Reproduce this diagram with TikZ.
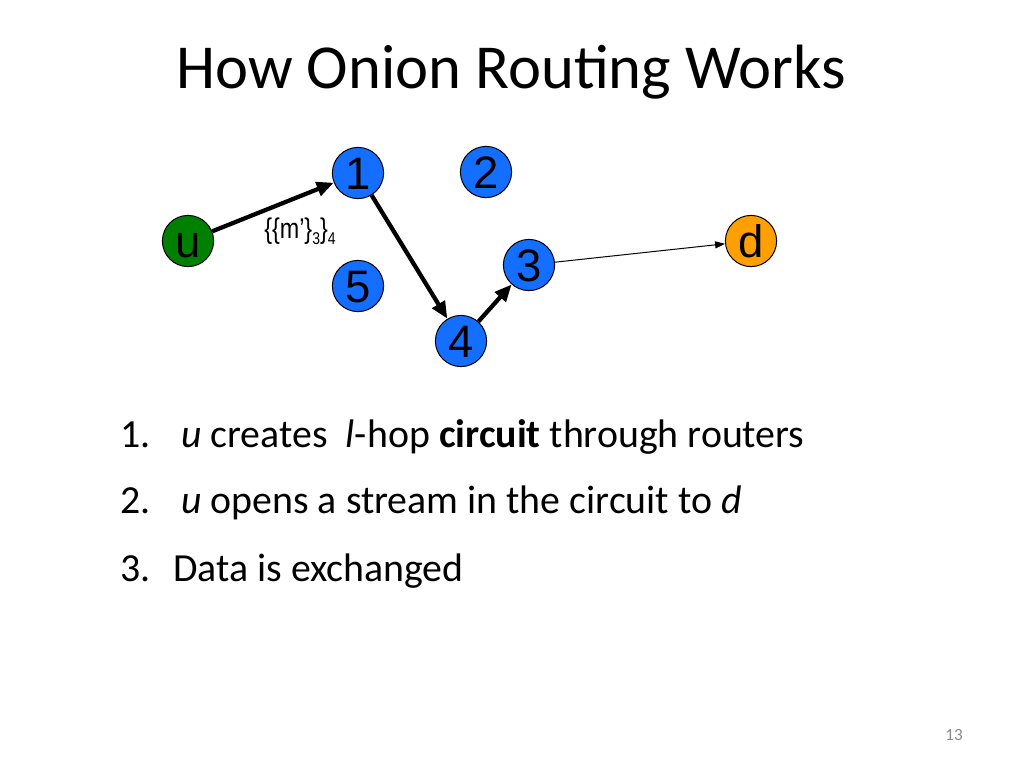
\documentclass[tikz,border=0pt]{standalone}
\usepackage{fontspec}
\setmainfont{Carlito}
\newfontfamily\arialf{Liberation Sans}
\newfontfamily\narrowf[FakeStretch=0.82]{Liberation Sans}
\usetikzlibrary{arrows.meta}
\definecolor{nodeblue}{RGB}{20,110,255}
\definecolor{nodegreen}{RGB}{0,128,0}
\definecolor{nodeorange}{RGB}{255,160,0}
\definecolor{pgnum}{RGB}{137,137,137}
\tikzset{
  router/.style={circle, draw=black, line width=0.7pt, fill=nodeblue, minimum size=36pt, inner sep=0pt,
    font=\arialf\fontsize{32}{34}\selectfont, text height=22.9pt, text depth=0pt},
  srcnode/.style={router, fill=nodegreen},
  dstnode/.style={router, fill=nodeorange},
  thickarrow/.style={line width=3pt, -{Triangle[length=12pt,width=10pt]}},
  thinarrow/.style={line width=0.7pt, -{Triangle[length=7pt,width=5pt]}},
  bodytext/.style={anchor=base west, inner sep=0pt, font=\fontsize{28}{33}\selectfont}
}
\begin{document}
\begin{tikzpicture}[x=0.703pt,y=-0.703pt]
\useasboundingbox (0,0) rectangle (1024,768);
\fill[white] (0,0) rectangle (1024,768);
% title
\node[anchor=base, inner sep=0pt, font=\fontsize{44}{53}\selectfont] (title) at (511,88) {How Onion Routing Works};
% nodes
\node[router] (n1) at (358,173) {1};
\node[router] (n2) at (486,172) {2};
\node[srcnode] (u) at (188,241) {u};
\node[dstnode] (d) at (751,241) {d};
\node[router] (n3) at (529,265) {3};
\node[router] (n5) at (358,286) {5};
\node[router] (n4) at (461,341) {4};
% connectors
\draw[thickarrow] (u) -- (n1);
\draw[thickarrow] (n1) -- (n4);
\draw[thickarrow] (n4) -- (n3);
\draw[thinarrow] (n3) -- (d);
% label
\node[anchor=base west, inner sep=0pt, font=\narrowf\fontsize{20}{22}\selectfont] (lbl) at (264,238)
  {\{\{m’\}\raisebox{-0.45ex}{\fontsize{12}{12}\selectfont 3}\}\raisebox{-0.45ex}{\fontsize{12}{12}\selectfont 4}};
% body
\node[bodytext] (l1n) at (120,447) {1.};
\node[bodytext] (l1) at (181,447) {\textit{u} creates\ \ \textit{l}-hop \textbf{circuit} through routers};
\node[bodytext] (l2n) at (120,513) {2.};
\node[bodytext] (l2) at (181,513) {\textit{u} opens a stream in the circuit to \textit{d}};
\node[bodytext] (l3n) at (120,581) {3.};
\node[bodytext] (l3) at (173,581) {Data is exchanged};
% page number
\node[anchor=base, inner sep=0pt, text=pgnum, font=\fontsize{12}{14}\selectfont] (pg) at (954,740) {13};
\end{tikzpicture}
\end{document}
